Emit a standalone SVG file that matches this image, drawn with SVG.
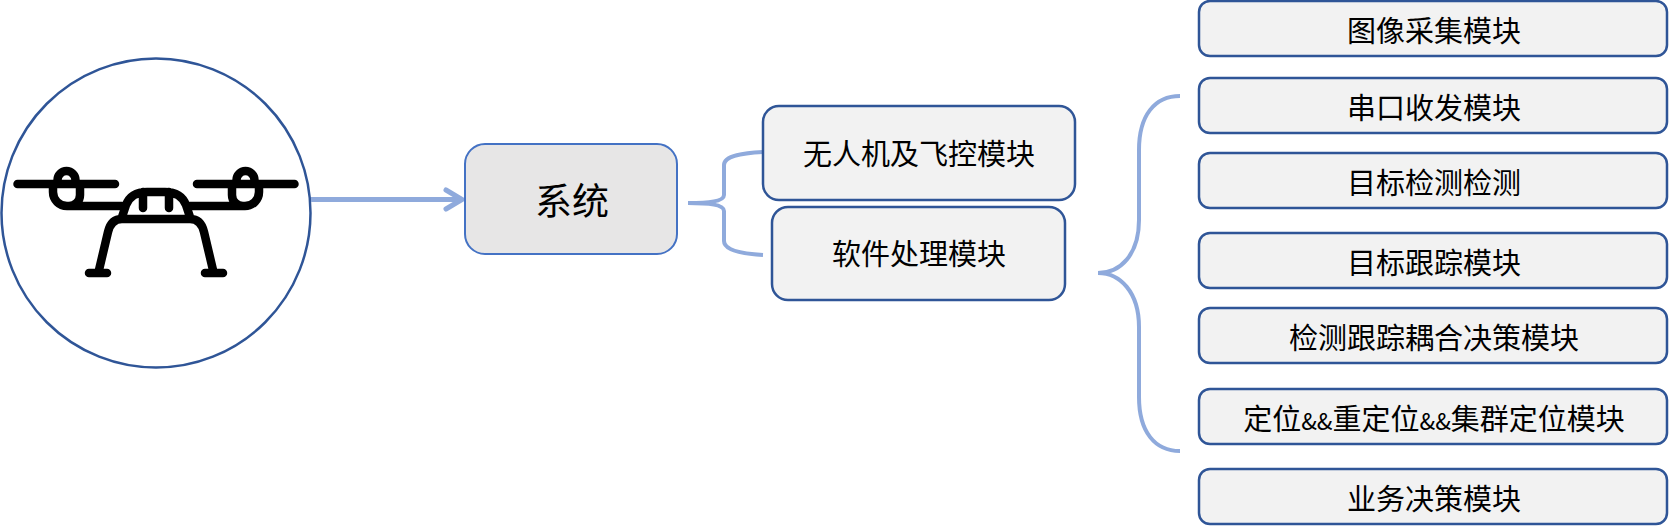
<svg xmlns="http://www.w3.org/2000/svg" width="1670" height="532" viewBox="0 0 1670 532">
<style>
text{font-family:"Noto Sans CJK SC","Noto Sans",sans-serif;fill:#000;text-anchor:middle;font-size:29px}
.a{font-size:23px}
.m{fill:#F2F2F2;stroke:#2F5597;stroke-width:2.5}
.c{fill:none;stroke:#8FAADC;stroke-width:4}
.d{fill:none;stroke:#000;stroke-width:8.5;stroke-linecap:round;stroke-linejoin:round}
</style>
<rect width="1670" height="532" fill="#fff"/>
<g id="drone">
<circle cx="156" cy="213" r="154.500" fill="#fff" stroke="#2F5597" stroke-width="2.500"/>
<path class="d" d="M17.500,184H115M57.500,184V180a9,9 0 0 1 18,0V184M53,186V192a14,14 0 0 0 14,14H122M80,186V195a11,11 0 0 1 -11,11"/>
<path class="d" d="M294.500,184H197M254.500,184V180a9,9 0 0 0 -18,0V184M259,186V192a14,14 0 0 1 -14,14H190M232,186V195a11,11 0 0 0 11,11"/>
<path class="d" d="M122,217L126,205Q131,192 147,192H165Q181,192 186,205L190,217M143,192V208M169,192V208M99,270L108,232Q111,219 122,219H190Q201,219 204,232L213,270M89,273H107M205,273H223"/>
</g>
<g id="connectors">
<path d="M311,199.500H462" fill="none" stroke="#8FAADC" stroke-width="5"/>
<path d="M446,190L462,199.500L446,209" fill="none" stroke="#8FAADC" stroke-width="5" stroke-linecap="round"/>
<path class="c" d="M688,203C706,203 724,202 724,195V165C724,155 745,153 763,152M688,203C706,203 724,204 724,211V241C724,251 745,254 763,255"/>
<path class="c" d="M1180,96C1155,96 1139,115 1139,150V220C1139,255 1120,273 1098,273C1120,273 1139,292 1139,327V397C1139,432 1155,451 1180,451"/>
</g>
<g id="n-system"><rect x="465" y="144" width="212" height="110" rx="20" fill="#E7E6E6" stroke="#4472C4" stroke-width="2"/><text x="572" y="215" style="font-size:37px">系统</text></g>
<g id="n-fc"><rect class="m" x="763" y="106" width="312" height="94" rx="16"/><text x="919" y="165">无人机及飞控模块</text></g>
<g id="n-sw"><rect class="m" x="772" y="207" width="293" height="93" rx="16"/><text x="919" y="265">软件处理模块</text></g>
<g id="n1"><rect class="m" x="1199" y="1" width="468" height="55" rx="11"/><text x="1434" y="42">图像采集模块</text></g>
<g id="n2"><rect class="m" x="1199" y="78" width="468" height="55" rx="11"/><text x="1434" y="119">串口收发模块</text></g>
<g id="n3"><rect class="m" x="1199" y="153" width="468" height="55" rx="11"/><text x="1434" y="194">目标检测检测</text></g>
<g id="n4"><rect class="m" x="1199" y="233" width="468" height="55" rx="11"/><text x="1434" y="274">目标跟踪模块</text></g>
<g id="n5"><rect class="m" x="1199" y="308" width="468" height="55" rx="11"/><text x="1434" y="349">检测跟踪耦合决策模块</text></g>
<g id="n6"><rect class="m" x="1199" y="389" width="468" height="55" rx="11"/><text x="1434" y="430">定位<tspan class="a">&amp;&amp;</tspan>重定位<tspan class="a">&amp;&amp;</tspan>集群定位模块</text></g>
<g id="n7"><rect class="m" x="1199" y="469" width="468" height="55" rx="11"/><text x="1434" y="510">业务决策模块</text></g>
</svg>
